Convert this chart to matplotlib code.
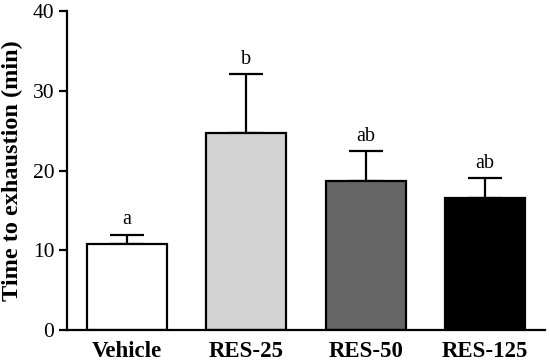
import matplotlib
matplotlib.use("Agg")
import matplotlib.pyplot as plt
import numpy as np

categories = ["Vehicle", "RES-25", "RES-50", "RES-125"]
means = [10.8, 24.7, 18.7, 16.5]
errors = [1.15, 7.35, 3.7, 2.5]
letters = ["a", "b", "ab", "ab"]
colors = ["#ffffff", "#d3d3d3", "#666666", "#000000"]
yticks = [0, 10, 20, 30, 40]

plt.rcParams['font.family'] = ['Liberation Serif', 'DejaVu Serif']

fig = plt.figure(figsize=(5.5, 3.61), dpi=100)
ax = fig.add_axes([67/550, 31/361, 478/550, 319/361])

x = np.arange(len(categories))
ax.bar(x, means, width=0.67, color=colors, edgecolor="black", linewidth=1.6, zorder=2)
ax.errorbar(x, means, yerr=[np.zeros(len(errors)), errors], fmt="none",
            ecolor="black", elinewidth=1.6, capsize=12, capthick=1.6, zorder=1)

for xi, m, e, t in zip(x, means, errors, letters):
    ax.annotate(t, (xi, m + e), xytext=(0, 4), textcoords="offset points",
                ha="center", va="bottom", fontsize=14.5)

ax.set_xlim(-0.5, 3.5)
ax.set_ylim(0, 40)
ax.set_yticks(yticks)
ax.set_yticklabels([str(v) for v in yticks], fontsize=15.5)
ax.set_xticks(x)
ax.set_xticklabels(categories, fontsize=16.5, fontweight="bold")
ax.tick_params(axis="x", length=0, pad=8)
ax.tick_params(axis="y", length=6, width=1.6, direction="out", pad=3)
ax.set_ylabel("Time to exhaustion (min)", fontsize=17.5, fontweight="bold", labelpad=7)

for s in ["top", "right"]:
    ax.spines[s].set_visible(False)
for s in ["left", "bottom"]:
    ax.spines[s].set_linewidth(1.6)

fig.savefig("out.png", dpi=100)
